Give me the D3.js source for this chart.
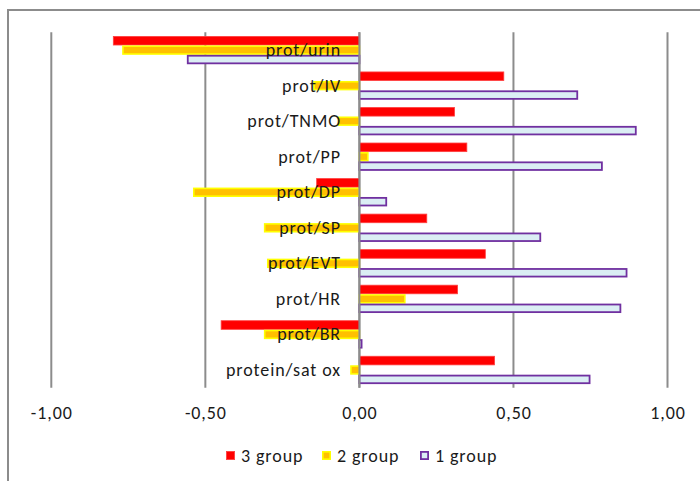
<!DOCTYPE html>
<html>
<head>
<meta charset="utf-8">
<script src="https://cdn.jsdelivr.net/npm/d3@7"></script>
<style>
  html, body { margin: 0; padding: 0; background: #fff; }
  svg { display: block; font-family: Carlito, Calibri, Lato, "Open Sans", sans-serif; }
</style>
</head>
<body>
<svg id="chart" width="700" height="481"></svg>
<script>
// Correlation coefficients per indicator for three patient groups
const categories = ["prot/urin", "prot/IV", "prot/TNMO", "prot/PP", "prot/DP",
                    "prot/SP", "prot/EVT", "prot/HR", "prot/BR", "protein/sat ox"];
const group3 = [-0.80, 0.47, 0.31, 0.35, -0.14, 0.22, 0.41, 0.32, -0.45, 0.44];
const group2 = [-0.77, -0.15, -0.07, 0.03, -0.54, -0.31, -0.30, 0.15, -0.31, -0.03];
const group1 = [-0.56, 0.71, 0.90, 0.79, 0.09, 0.59, 0.87, 0.85, 0.01, 0.75];
const tickValues = [-1, -0.5, 0, 0.5, 1];
const seriesNames = ["3 group", "2 group", "1 group"];

const series = [
  { name: seriesNames[0], values: group3, fill: "#ff0000", stroke: "#ff4040", sw: 0.8 },
  { name: seriesNames[1], values: group2, fill: "#ffc000", stroke: "#ffff00", sw: 1.6 },
  { name: seriesNames[2], values: group1, fill: "#dbeef4", stroke: "#7030a0", sw: 1.8 }
];

const FONT_SIZE = 18;
const LETTER_SP = 0.9;

const svg = d3.select("#chart");

// outer chart frame
svg.append("rect")
  .attr("x", 8).attr("y", 10)
  .attr("width", 720).attr("height", 500)
  .attr("fill", "none").attr("stroke", "#8c8c8c").attr("stroke-width", 2);

const x = d3.scaleLinear().domain([-1, 1]).range([51.3, 667.5]);
const y = d3.scaleBand().domain(categories).range([32.3, 387.7]).paddingInner(0).paddingOuter(0);
const sub = d3.scaleBand().domain(seriesNames).range([3.7, y.bandwidth() - 3.6]);

// vertical gridlines
svg.append("g").selectAll("line")
  .data(tickValues).join("line")
  .attr("x1", d => x(d)).attr("x2", d => x(d))
  .attr("y1", 32.3).attr("y2", 387.7)
  .attr("stroke", "#8c8c8c").attr("stroke-width", 2);

// bars
const barG = svg.append("g");
series.forEach(s => {
  barG.append("g").selectAll("rect")
    .data(categories.map((c, i) => ({ c, v: s.values[i] })))
    .join("rect")
    .attr("x", d => Math.min(x(0), x(d.v)) + (d.v < 0 ? s.sw / 2 : 0))
    .attr("y", d => y(d.c) + sub(s.name) + s.sw / 2)
    .attr("width", d => Math.max(0.5, Math.abs(x(d.v) - x(0)) - s.sw / 2))
    .attr("height", sub.bandwidth() - s.sw)
    .attr("fill", s.fill)
    .attr("stroke", s.stroke)
    .attr("stroke-width", s.sw);
});

// zero line drawn over bars
svg.append("line")
  .attr("x1", x(0)).attr("x2", x(0))
  .attr("y1", 32.3).attr("y2", 387.7)
  .attr("stroke", "#8c8c8c").attr("stroke-width", 2);

// category labels, right aligned left of the zero line
svg.append("g").selectAll("text")
  .data(categories).join("text")
  .attr("x", 341)
  .attr("y", d => y(d) + y.bandwidth() / 2)
  .attr("text-anchor", "end")
  .attr("dominant-baseline", "central")
  .attr("font-size", FONT_SIZE)
  .attr("letter-spacing", LETTER_SP)
  .attr("fill", "#1a1a1a")
  .text(d => d);

// x axis tick labels
const fmt = v => d3.format(".2f")(v).replace(".", ",").replace("−", "-");
const xAxis = d3.axisBottom(x).tickValues(tickValues).tickSize(0).tickPadding(0).tickFormat(fmt);
const axG = svg.append("g").attr("transform", "translate(0,406)").call(xAxis);
axG.select(".domain").remove();
axG.selectAll("text")
  .attr("font-size", FONT_SIZE)
  .attr("letter-spacing", LETTER_SP)
  .attr("fill", "#1a1a1a")
  .attr("font-family", "Carlito, Calibri, Lato, sans-serif");

// legend
const legendX = [226, 322, 420];
const lg = svg.append("g").selectAll("g")
  .data(series).join("g")
  .attr("transform", (d, i) => `translate(${legendX[i]},451)`);
lg.append("rect")
  .attr("x", d => d.sw / 2).attr("y", d => d.sw / 2)
  .attr("width", d => 9 - d.sw).attr("height", d => 9 - d.sw)
  .attr("fill", d => d.fill).attr("stroke", d => d.stroke).attr("stroke-width", d => d.sw);
lg.append("text")
  .attr("x", 15).attr("y", 5)
  .attr("dominant-baseline", "central")
  .attr("font-size", FONT_SIZE)
  .attr("letter-spacing", LETTER_SP)
  .attr("fill", "#1a1a1a")
  .text(d => d.name);
</script>
</body>
</html>
